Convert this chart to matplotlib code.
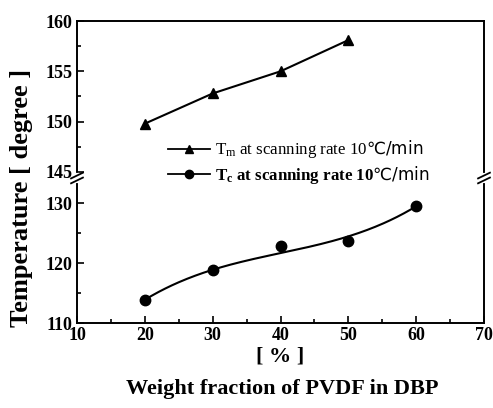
import numpy as np
import matplotlib
matplotlib.use("Agg")
import matplotlib.pyplot as plt
from matplotlib.lines import Line2D
from matplotlib.ticker import MultipleLocator

# data
x_tm = [20, 30, 40, 50]
tm = [149.8, 152.8, 155.0, 158.1]
x_tc = [20, 30, 40, 50, 60]
tc = [113.9, 118.8, 122.8, 123.7, 129.5]
x_ticks = [10, 20, 30, 40, 50, 60, 70]
top_ticks = [145, 150, 155, 160]
bot_ticks = [110, 120, 130]

serif = ['Liberation Serif', 'DejaVu Serif']
plt.rcParams['font.family'] = serif
plt.rcParams['mathtext.fontset'] = 'custom'
plt.rcParams['mathtext.rm'] = 'Liberation Serif'
plt.rcParams['mathtext.it'] = 'Liberation Serif'
plt.rcParams['mathtext.bf'] = 'Liberation Serif:bold'
plt.rcParams['mathtext.sf'] = 'DejaVu Sans'

fig = plt.figure(figsize=(4.93, 4.08), dpi=100)
L, W = 77/493, (484-77)/493
YB = 1-178/408
ax_t = fig.add_axes([L, YB, W, 157/408])
ax_b = fig.add_axes([L, 1-323/408, W, 145/408])
ax_t.set_zorder(3)
ax_t.patch.set_visible(False)

for ax in (ax_t, ax_b):
    ax.set_xlim(10, 70)
    ax.xaxis.set_major_locator(MultipleLocator(10))
    ax.xaxis.set_minor_locator(MultipleLocator(5))
    ax.tick_params(which='both', direction='in', top=False, right=False, width=1.2)
    ax.tick_params(which='major', length=5, pad=3)
    ax.tick_params(which='minor', length=3)
    for s in ax.spines.values():
        s.set_linewidth(1.4)

ax_t.set_ylim(144.4, 160)
ax_t.set_yticks(top_ticks)
ax_t.yaxis.set_minor_locator(MultipleLocator(2.5))
ax_t.spines['bottom'].set_visible(False)
ax_t.tick_params(axis='x', which='both', bottom=False, labelbottom=False)

ax_b.set_ylim(110, 134.2)
ax_b.set_yticks(bot_ticks)
ax_b.yaxis.set_minor_locator(MultipleLocator(5))
ax_b.spines['top'].set_visible(False)
ax_b.set_xticks(x_ticks)

for ax in (ax_t, ax_b):
    for lab in ax.get_yticklabels() + ax.get_xticklabels():
        lab.set_fontweight('bold')
        lab.set_fontsize(13)

# data
ax_t.plot(x_tm, tm, color='black', lw=1.5, marker='^', ms=7.5, zorder=3)
coef = np.polyfit(x_tc, tc, 3, w=[3, 3, 1, 1, 3])
xs = np.linspace(min(x_tc), max(x_tc), 200)
ax_b.plot(xs, np.polyval(coef, xs), color='black', lw=1.5)
ax_b.plot(x_tc, tc, 'o', color='black', ms=7.5, zorder=3)

# break marks
for xf in (0.0, 1.0):
    fig.add_artist(Line2D([L + xf*W, L + xf*W], [YB - 0.008, YB + 0.008],
                          color='white', lw=3, transform=fig.transFigure, zorder=5))
    for dy in (-0.006, 0.006):
        fig.add_artist(Line2D([L + xf*W - 0.012, L + xf*W + 0.012],
                              [YB + dy - 0.007, YB + dy + 0.007],
                              color='black', lw=1.3, transform=fig.transFigure, zorder=6))

# legend
h1 = Line2D([], [], color='black', lw=1.3, marker='^', ms=6)
h2 = Line2D([], [], color='black', lw=1.3, marker='o', ms=6)
leg = ax_t.legend([h1, h2],
                  ['T$_\\mathregular{m}$ at scanning rate 10$\\mathsf{\u2103/min}$',
                   'T$_\\mathregular{c}$ at scanning rate 10$\\mathsf{\u2103/min}$'],
                  loc='center left', bbox_to_anchor=(168/493, 1-162/408),
                  bbox_transform=fig.transFigure, frameon=False,
                  handlelength=2.5, handletextpad=0.25,
                  labelspacing=0.18, borderaxespad=0, borderpad=0,
                  prop={'family': ['Liberation Serif', 'DejaVu Sans'], 'size': 12.2})
leg.get_texts()[1].set_fontweight('bold')

fig.text(22/493, 1-198/408, 'Temperature [ degree ]', rotation=90,
         ha='center', va='center', fontsize=19, fontweight='bold')
fig.text(280/493, 1-356/408, '[ % ]', ha='center', va='center', fontsize=16, fontweight='bold')
fig.text(282/493, 1-389/408, 'Weight fraction of PVDF in DBP', ha='center', va='center',
         fontsize=16, fontweight='bold')

fig.savefig('out.png', dpi=100)
